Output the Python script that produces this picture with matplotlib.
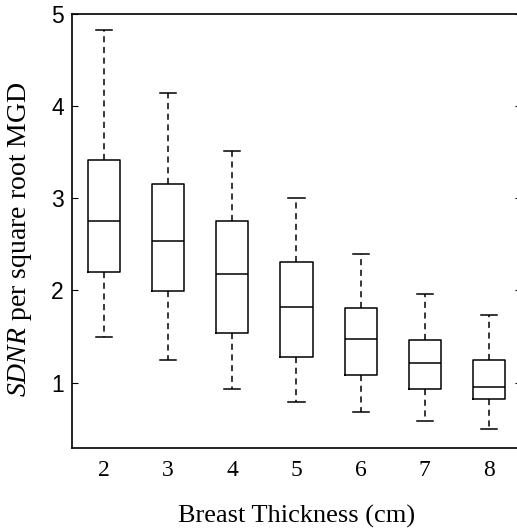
import matplotlib
matplotlib.use('Agg')
from matplotlib import pyplot as plt

plt.rcParams['mathtext.fontset'] = 'custom'
plt.rcParams['mathtext.it'] = 'Liberation Serif:italic'
plt.rcParams['mathtext.rm'] = 'Liberation Serif'

# breast thickness (cm) and box statistics
thickness = [2, 3, 4, 5, 6, 7, 8]
whisk_lo = [1.49, 1.24, 0.93, 0.79, 0.68, 0.58, 0.50]
q1 = [2.20, 1.99, 1.54, 1.28, 1.08, 0.93, 0.82]
med = [2.75, 2.54, 2.18, 1.82, 1.47, 1.21, 0.95]
q3 = [3.42, 3.15, 2.75, 2.31, 1.81, 1.46, 1.25]
whisk_hi = [4.83, 4.14, 3.51, 3.00, 2.40, 1.96, 1.73]

stats = []
for i, t in enumerate(thickness):
    stats.append(dict(label=str(t), whislo=whisk_lo[i], q1=q1[i], med=med[i],
                      q3=q3[i], whishi=whisk_hi[i], fliers=[]))

fig = plt.figure(figsize=(5.17, 5.28), dpi=100)
ax = fig.add_axes([72/517, 1-448/528, (521-72)/517, (448-14)/528])

ax.bxp(stats, positions=thickness, widths=0.5, showfliers=False,
       boxprops=dict(color='black', linewidth=1.1),
       medianprops=dict(color='black', linewidth=1.1),
       whiskerprops=dict(color='black', linewidth=1.1, linestyle=(0, (4, 3))),
       capprops=dict(color='black', linewidth=1.1), capwidths=0.25)

ax.set_xlim(1.5, 8.5)
ax.set_ylim(0.29, 5.0)
ax.set_yticks([1, 2, 3, 4, 5])
ax.set_yticklabels(['1', '2', '3', '4', '5'], fontfamily='Liberation Sans', fontsize=16.5)
ax.set_xticks(thickness)
ax.set_xticklabels([str(t) for t in thickness], fontfamily='Liberation Serif', fontsize=17)
ax.tick_params(axis='x', length=0, pad=9)
ax.tick_params(axis='y', direction='in', length=4, right=True, pad=6, width=0.8)
for s in ax.spines.values():
    s.set_linewidth(1.2)

ax.set_xlabel('Breast Thickness (cm)', fontfamily='Liberation Serif', fontsize=19, labelpad=17)
ax.set_ylabel(r'$\mathit{SDNR}$ per square root MGD', fontfamily='Liberation Serif',
              fontsize=20)
ax.yaxis.set_label_coords(-38/449, 0.48)

fig.savefig('out.png', dpi=100)
